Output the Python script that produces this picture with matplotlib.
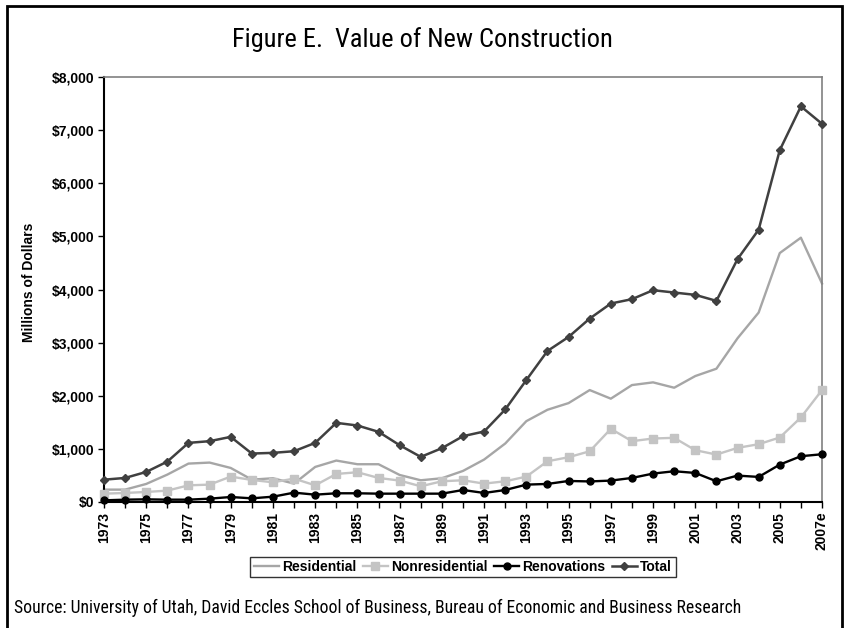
import matplotlib
matplotlib.use('Agg')
import matplotlib.pyplot as plt
import matplotlib.patches as patches
from matplotlib.ticker import FuncFormatter, MultipleLocator

years = [str(y) for y in range(1973, 2007)] + ['2007e']

residential = [233, 233, 340, 516, 723, 742, 641, 421, 447, 346, 660, 780, 711,
               711, 509, 409, 447, 585, 799, 1101, 1522, 1736, 1862,
               2107, 1945, 2201, 2252, 2151, 2371, 2509, 3082, 3566, 4686, 4975, 4113]
nonresidential = [157, 170, 189, 214, 314, 327, 478, 415, 371, 440, 314, 528, 560,
                  453, 403, 296, 390, 409, 346, 390, 478, 767, 843,
                  955, 1377, 1145, 1195, 1208, 975, 893, 1019, 1088, 1214, 1591, 2107]
renovations = [31, 44, 50, 44, 44, 63, 94, 69, 100, 176, 138, 164, 164,
               157, 157, 157, 157, 226, 170, 226, 327, 340, 396,
               387, 403, 453, 535, 579, 547, 390, 497, 472, 704, 862, 899]
total = [420, 453, 566, 761, 1113, 1145, 1226, 912, 925, 956, 1113, 1490, 1440,
         1321, 1069, 849, 1013, 1239, 1327, 1742, 2296, 2843, 3107,
         3453, 3736, 3818, 3987, 3943, 3899, 3786, 4572, 5126, 6623, 7447, 7119]

FONT = ['Liberation Sans', 'Arial', 'DejaVu Sans']
NARROW = ['Liberation Sans Narrow', 'Roboto Condensed', 'Liberation Sans', 'DejaVu Sans']
plt.rcParams['font.family'] = FONT

fig = plt.figure(figsize=(8.44, 6.28), dpi=100)
ax = fig.add_axes([104 / 844, 1 - 502 / 628, 718 / 844, 425 / 628])

x = list(range(len(years)))
ax.plot(x, residential, color='#a6a6a6', lw=1.7, label='Residential', zorder=2, clip_on=False)
ax.plot(x, nonresidential, color='#c4c4c4', lw=1.7, marker='s', ms=5.5,
        label='Nonresidential', zorder=3, clip_on=False)
ax.plot(x, renovations, color='black', lw=1.7, marker='o', ms=5,
        label='Renovations', zorder=4, clip_on=False)
ax.plot(x, total, color='#404040', lw=1.8, marker='D', ms=4,
        label='Total', zorder=5, clip_on=False)

ax.set_xlim(0, len(years) - 1)
ax.set_ylim(0, 8000)
ax.yaxis.set_major_locator(MultipleLocator(1000))
ax.yaxis.set_major_formatter(FuncFormatter(lambda v, p: f'${v:,.0f}'))
ax.set_xticks(x)
ax.set_xticklabels([y if i % 2 == 0 else '' for i, y in enumerate(years)],
                   rotation=90, fontweight='bold', fontsize=10)
for lbl in ax.get_yticklabels():
    lbl.set_fontweight('bold')
    lbl.set_fontsize(10)
ax.tick_params(axis='both', direction='out', length=4, width=1, pad=3)

ax.spines['left'].set_color('black')
ax.spines['left'].set_linewidth(1.5)
ax.spines['bottom'].set_color('black')
ax.spines['bottom'].set_linewidth(1.5)
ax.spines['top'].set_color('#808080')
ax.spines['right'].set_color('#808080')
ax.spines['top'].set_linewidth(1.2)
ax.spines['right'].set_linewidth(1.2)

fig.text(29 / 844, 1 - 282 / 628, 'Millions of Dollars', rotation=90,
         ha='center', va='center', fontweight='bold', fontsize=10)

fig.text(0.5, 1 - 40 / 628, 'Figure E.  Value of New Construction',
         ha='center', va='center', fontsize=19, family=NARROW)
fig.text(14 / 844, 1 - 608 / 628,
         'Source: University of Utah, David Eccles School of Business, Bureau of Economic and Business Research',
         ha='left', va='center', fontsize=12.7, family=NARROW)

leg = fig.legend(loc='center', bbox_to_anchor=(463 / 844, 1 - 567 / 628), ncol=4,
                 frameon=True, fancybox=False, handlelength=1.8, handletextpad=0.25,
                 columnspacing=0.45, borderpad=0.25, prop={'weight': 'bold', 'size': 10})
leg.get_frame().set_edgecolor('black')
leg.get_frame().set_linewidth(1.0)

frame = patches.Rectangle((7 / 844, -0.02), 835 / 844, 1.02 - 6 / 628,
                          transform=fig.transFigure, fill=False,
                          edgecolor='black', linewidth=2)
fig.patches.append(frame)

fig.savefig('out.png', dpi=100)
